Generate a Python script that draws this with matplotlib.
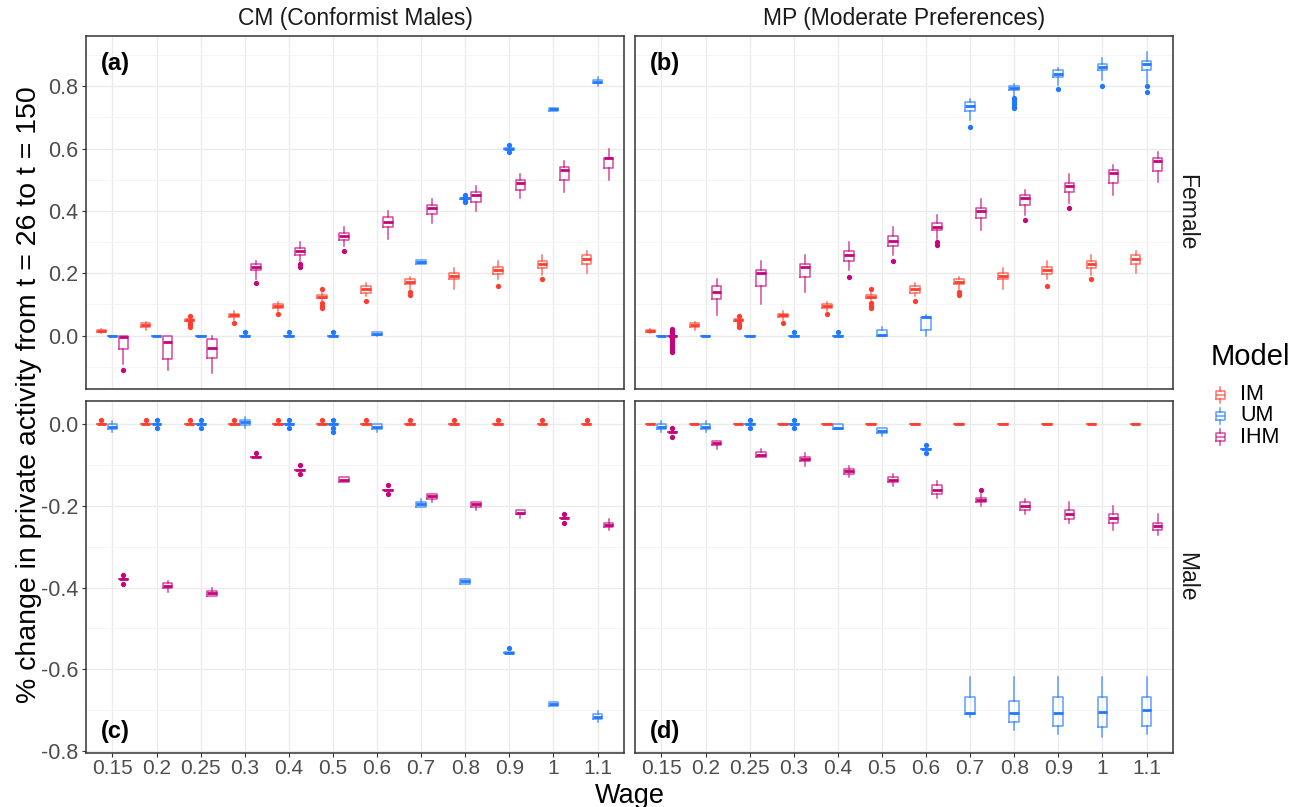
import matplotlib
matplotlib.use("Agg")
import matplotlib.pyplot as plt
from matplotlib.colors import to_rgba

plt.rcParams['font.family'] = ['Liberation Sans', 'DejaVu Sans']
plt.rcParams['axes.unicode_minus'] = False

wages = ["0.15", "0.2", "0.25", "0.3", "0.4", "0.5", "0.6", "0.7", "0.8", "0.9", "1", "1.1"]
models = ["IM", "UM", "IHM"]
colors = {"IM": "#FF3D2E", "UM": "#1F78FF", "IHM": "#C4047A"}
cols_titles = ["CM (Conformist Males)", "MP (Moderate Preferences)"]
rows_titles = ["Female", "Male"]
panel_tags = ["(a)", "(b)", "(c)", "(d)"]

Z = (0.0, 0.0, 0.0, 0.0, 0.0)

# ---- stats per wage: (whislo, q1, median, q3, whishi); fliers separately ----
cm_female_im = [(0.008, 0.011, 0.015, 0.019, 0.021), (0.019, 0.028, 0.034, 0.041, 0.043),
                (0.045, 0.048, 0.050, 0.052, 0.055), (0.051, 0.060, 0.065, 0.070, 0.078),
                (0.078, 0.088, 0.096, 0.100, 0.107), (0.113, 0.119, 0.125, 0.130, 0.137),
                (0.126, 0.138, 0.150, 0.160, 0.169), (0.150, 0.166, 0.172, 0.180, 0.188),
                (0.150, 0.180, 0.190, 0.200, 0.218), (0.180, 0.198, 0.210, 0.220, 0.240),
                (0.196, 0.218, 0.230, 0.240, 0.259), (0.200, 0.229, 0.246, 0.260, 0.270)]
cm_female_im_fl = [[], [], [0.062, 0.041, 0.035, 0.029], [0.039], [0.068],
                   [0.151, 0.103, 0.096, 0.088], [0.110], [0.141, 0.130], [], [0.158], [0.180], []]

cm_female_um = [Z, Z, Z, Z, Z, Z,
                (0.0, 0.001, 0.006, 0.011, 0.012), (0.230, 0.231, 0.236, 0.241, 0.242),
                (0.437, 0.438, 0.440, 0.442, 0.443), (0.598, 0.599, 0.600, 0.601, 0.602),
                (0.721, 0.722, 0.726, 0.730, 0.731), (0.802, 0.810, 0.815, 0.820, 0.829)]
cm_female_um_fl = [[], [], [], [0.010], [0.010], [0.010], [], [],
                   [0.452, 0.446, 0.433, 0.429], [0.613, 0.589], [], []]

cm_female_ihm = [(-0.091, -0.042, -0.004, 0.0, 0.0), (-0.111, -0.075, -0.021, 0.0, 0.0),
                 (-0.120, -0.072, -0.041, -0.011, 0.0), (0.180, 0.210, 0.220, 0.231, 0.238),
                 (0.240, 0.260, 0.272, 0.280, 0.300), (0.287, 0.307, 0.320, 0.330, 0.349),
                 (0.310, 0.349, 0.365, 0.380, 0.400), (0.361, 0.390, 0.410, 0.420, 0.439),
                 (0.400, 0.429, 0.452, 0.461, 0.479), (0.440, 0.468, 0.490, 0.500, 0.520),
                 (0.460, 0.500, 0.530, 0.541, 0.559), (0.500, 0.539, 0.569, 0.571, 0.600)]
cm_female_ihm_fl = [[-0.111], [], [], [0.170], [0.231, 0.220], [0.270], [], [], [], [], [], []]

mp_female_im = list(cm_female_im)
mp_female_im_fl = list(cm_female_im_fl)

mp_female_um = [Z, Z, Z, Z, Z,
                (0.0, 0.0, 0.003, 0.019, 0.028), (0.0, 0.019, 0.058, 0.060, 0.067),
                (0.693, 0.720, 0.738, 0.751, 0.759), (0.768, 0.788, 0.795, 0.800, 0.809),
                (0.805, 0.830, 0.840, 0.851, 0.860), (0.821, 0.851, 0.862, 0.872, 0.891),
                (0.811, 0.851, 0.872, 0.880, 0.909)]
mp_female_um_fl = [[], [], [], [0.010], [0.010], [], [], [0.670],
                   [0.763, 0.756, 0.749, 0.742, 0.735, 0.729], [0.790], [0.800], [0.800, 0.781]]

mp_female_ihm = [Z, (0.067, 0.118, 0.140, 0.159, 0.180), (0.100, 0.159, 0.200, 0.212, 0.240),
                 (0.140, 0.188, 0.220, 0.230, 0.259), (0.212, 0.240, 0.260, 0.270, 0.300),
                 (0.259, 0.289, 0.302, 0.319, 0.349), (0.310, 0.339, 0.350, 0.361, 0.388),
                 (0.340, 0.378, 0.399, 0.410, 0.439), (0.388, 0.419, 0.441, 0.450, 0.468),
                 (0.426, 0.460, 0.481, 0.490, 0.520), (0.450, 0.490, 0.521, 0.530, 0.549),
                 (0.492, 0.529, 0.560, 0.570, 0.589)]
mp_female_ihm_fl = [[0.021, 0.016, 0.011, 0.005, -0.005, -0.011, -0.016, -0.021, -0.027,
                     -0.032, -0.037, -0.043, -0.048, -0.053],
                    [], [], [], [0.188], [0.240], [0.300, 0.290], [], [0.370], [0.410], [], []]

cm_male_im = [Z] * 12
cm_male_im_fl = [[0.010]] * 12

cm_male_um = [(-0.020, -0.011, -0.006, 0.0, 0.008), Z, Z,
              (-0.010, -0.002, 0.005, 0.011, 0.018), Z, Z,
              (-0.020, -0.011, -0.006, 0.0, 0.0), (-0.202, -0.202, -0.196, -0.190, -0.182),
              (-0.391, -0.391, -0.385, -0.380, -0.380), (-0.560, -0.559, -0.559, -0.558, -0.557),
              (-0.689, -0.689, -0.684, -0.679, -0.679), (-0.728, -0.722, -0.717, -0.710, -0.702)]
cm_male_um_fl = [[], [0.010, -0.010], [0.010, -0.010], [], [0.010, -0.010],
                 [0.010, -0.010, -0.019], [], [], [], [-0.549], [], []]

cm_male_ihm = [(-0.381, -0.380, -0.379, -0.378, -0.377), (-0.410, -0.402, -0.395, -0.389, -0.385),
               (-0.420, -0.420, -0.414, -0.408, -0.402), (-0.081,) * 5, (-0.111,) * 5,
               (-0.142, -0.142, -0.136, -0.130, -0.130), (-0.160,) * 5,
               (-0.191, -0.182, -0.176, -0.170, -0.170), (-0.210, -0.202, -0.196, -0.190, -0.190),
               (-0.230, -0.220, -0.218, -0.211, -0.211), (-0.230,) * 5,
               (-0.260, -0.252, -0.247, -0.241, -0.232)]
cm_male_ihm_fl = [[-0.369, -0.391], [], [], [-0.070], [-0.100, -0.122], [], [-0.149, -0.171],
                  [], [], [], [-0.220, -0.241], []]

mp_male_im = [Z] * 12
mp_male_im_fl = [[]] * 12

mp_male_um = [(-0.020, -0.011, -0.006, 0.0, 0.008), (-0.020, -0.011, -0.006, 0.0, 0.008), Z, Z,
              (-0.011, -0.011, -0.010, 0.0, 0.0), (-0.029, -0.021, -0.016, -0.010, -0.010),
              (-0.060,) * 5, (-0.718, -0.710, -0.708, -0.669, -0.620),
              (-0.748, -0.730, -0.708, -0.677, -0.620), (-0.758, -0.738, -0.708, -0.669, -0.620),
              (-0.767, -0.742, -0.704, -0.669, -0.620), (-0.758, -0.738, -0.699, -0.669, -0.620)]
mp_male_um_fl = [[], [], [0.010, -0.010], [0.010, -0.010], [], [], [-0.050, -0.071],
                 [], [], [], [], []]

mp_male_ihm = [(-0.020,) * 5, (-0.060, -0.051, -0.046, -0.040, -0.040),
               (-0.081, -0.081, -0.075, -0.069, -0.060), (-0.101, -0.091, -0.086, -0.081, -0.071),
               (-0.129, -0.121, -0.115, -0.109, -0.101), (-0.150, -0.142, -0.136, -0.130, -0.122),
               (-0.180, -0.171, -0.160, -0.149, -0.140), (-0.200, -0.191, -0.185, -0.180, -0.171),
               (-0.220, -0.211, -0.200, -0.190, -0.182), (-0.241, -0.231, -0.220, -0.211, -0.191),
               (-0.260, -0.241, -0.230, -0.220, -0.200), (-0.271, -0.260, -0.250, -0.241, -0.220)]
mp_male_ihm_fl = [[-0.010, -0.031], [], [], [], [], [], [], [-0.160], [], [], [], []]

panels = [
    {"IM": (cm_female_im, cm_female_im_fl), "UM": (cm_female_um, cm_female_um_fl),
     "IHM": (cm_female_ihm, cm_female_ihm_fl)},
    {"IM": (mp_female_im, mp_female_im_fl), "UM": (mp_female_um, mp_female_um_fl),
     "IHM": (mp_female_ihm, mp_female_ihm_fl)},
    {"IM": (cm_male_im, cm_male_im_fl), "UM": (cm_male_um, cm_male_um_fl),
     "IHM": (cm_male_ihm, cm_male_ihm_fl)},
    {"IM": (mp_male_im, mp_male_im_fl), "UM": (mp_male_um, mp_male_um_fl),
     "IHM": (mp_male_ihm, mp_male_ihm_fl)},
]

W, H = 1304, 807
fig = plt.figure(figsize=(W / 100, H / 100), dpi=100)

def fx(px):
    return px / W

def fy(py):
    return 1 - py / H

lefts = [86, 635]
pw = 538
row_tb = [(36, 389), (401, 753)]
ylims = [(-0.1715, 0.9615), (-0.805, 0.057)]
yticks = [[0.0, 0.2, 0.4, 0.6, 0.8], [-0.8, -0.6, -0.4, -0.2, 0.0]]
yminor = [[-0.1, 0.1, 0.3, 0.5, 0.7, 0.9], [-0.7, -0.5, -0.3, -0.1]]
offsets = {"IM": -0.25, "UM": 0.0, "IHM": 0.25}
border = "#333333"
grid_c = "#EBEBEB"

axes = []
for r in range(2):
    for c in range(2):
        top, bot = row_tb[r]
        ax = fig.add_axes([fx(lefts[c]), fy(bot), pw / W, (bot - top) / H])
        axes.append(ax)
        idx = r * 2 + c
        ax.set_xlim(-0.6, len(wages) - 0.4)
        ax.set_ylim(*ylims[r])
        ax.set_yticks(yticks[r])
        ax.set_yticks(yminor[r], minor=True)
        ax.set_xticks(range(len(wages)))
        ax.grid(True, which='major', color=grid_c, linewidth=1.0, zorder=0)
        ax.grid(True, which='minor', axis='y', color="#F4F4F4", linewidth=0.6, zorder=0)
        ax.set_axisbelow(True)
        for s in ax.spines.values():
            s.set_color(border)
            s.set_linewidth(1.1)
        ax.tick_params(which='major', length=3, color=border, width=0.8, pad=2.5,
                       labelsize=15.5, labelcolor="#4D4D4D")
        ax.tick_params(axis='x', pad=1.0, labelsize=15)
        ax.tick_params(which='minor', length=0)
        if c == 0:
            ax.set_yticklabels([f"{v:.1f}" for v in yticks[r]])
        else:
            ax.set_yticklabels([])
            ax.tick_params(axis='y', length=0)
        if r == 1:
            ax.set_xticklabels(wages)
        else:
            ax.set_xticklabels([])
            ax.tick_params(axis='x', length=0)

        for m in models:
            st, fl = panels[idx][m]
            col = colors[m]
            stats = []
            for (lo, q1, med, q3, hi), f in zip(st, fl):
                stats.append({"whislo": lo, "q1": q1, "med": med, "q3": q3,
                              "whishi": hi, "fliers": list(f)})
            pos = [i + offsets[m] for i in range(len(wages))]
            lc = to_rgba(col, 0.72)
            ax.bxp(stats, positions=pos, widths=0.22, showcaps=False,
                   boxprops=dict(color=lc, linewidth=1.1),
                   whiskerprops=dict(color=lc, linewidth=1.1),
                   medianprops=dict(color=col, linewidth=2.0, solid_capstyle='butt'),
                   flierprops=dict(marker='o', markersize=3.8, markerfacecolor=col,
                                   markeredgecolor='none', linestyle='none'),
                   manage_ticks=False, zorder=3)

        tag_y = 0.923 if r == 0 else 0.06
        ax.text(0.028, tag_y, panel_tags[idx], transform=ax.transAxes, ha='left',
                va='center', fontsize=17, fontweight='bold', color='black')

# strip labels
for c in range(2):
    fig.text(fx(lefts[c] + pw / 2), fy(18), cols_titles[c], ha='center', va='center',
             fontsize=16.5, color='#1A1A1A')
for r in range(2):
    top, bot = row_tb[r]
    fig.text(fx(1187), fy((top + bot) / 2), rows_titles[r], ha='center', va='center',
             rotation=270, fontsize=16.5, color='#1A1A1A')

# axis titles
fig.text(fx(29), fy((36 + 753) / 2), "% change in private activity from t = 26 to t = 150",
         rotation=90, ha='center', va='center', fontsize=20.5, color='black')
fig.text(fx((86 + 1173) / 2), fy(803), "Wage", ha='center', va='baseline', fontsize=19.5,
         color='black')

# legend
fig.text(fx(1211), fy(357), "Model", ha='left', va='center', fontsize=21, color='black')
lax = fig.add_axes([fx(1205), fy(450), fx(30), (450 - 380) / H])
lax.set_xlim(0, 1)
lax.set_ylim(450, 380)
lax.axis('off')
for m, yy in zip(models, [395, 416, 437]):
    lst = [{"whislo": yy + 8, "q1": yy + 4, "med": yy, "q3": yy - 4, "whishi": yy - 8,
            "fliers": []}]
    lc = to_rgba(colors[m], 0.72)
    lax.bxp(lst, positions=[0.5], widths=0.3, showcaps=False,
            boxprops=dict(color=lc, linewidth=1.1),
            whiskerprops=dict(color=lc, linewidth=1.1),
            medianprops=dict(color=lc, linewidth=1.1), manage_ticks=False)
    fig.text(fx(1240), fy(yy), m, ha='left', va='center', fontsize=15.5, color='black')

fig.savefig("out.png", dpi=100)
